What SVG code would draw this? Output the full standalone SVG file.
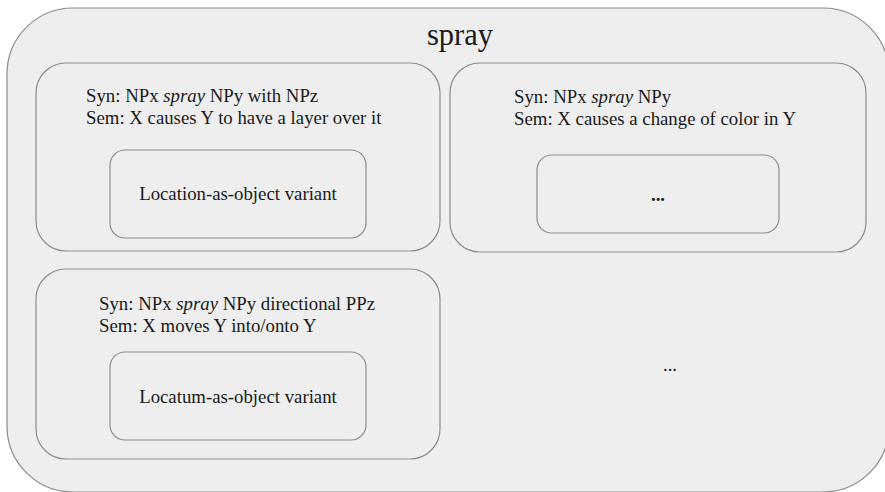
<svg xmlns="http://www.w3.org/2000/svg" width="885" height="492" viewBox="0 0 885 492">
<style>
.box{fill:#eeeeee;stroke:#8c8c8c;stroke-width:1.2}
.c{text-anchor:middle}
</style>
<rect width="885" height="492" fill="#ffffff"/>
<g font-family="Liberation Serif" font-size="18.8" fill="#1a1a1a">
<g id="spray">
<rect class="box" x="7" y="8" width="882" height="484" rx="66" ry="66"/>
<text class="c" x="460" y="45" font-size="30.5">spray</text>
</g>
<g id="frame1">
<rect class="box" x="36" y="63" width="404" height="188" rx="30" ry="30"/>
<text x="86" y="102">Syn: NPx <tspan font-style="italic">spray</tspan> NPy with NPz</text>
<text x="86" y="123.5">Sem: X causes Y to have a layer over it</text>
</g>
<g id="variant1">
<rect class="box" x="110" y="150" width="256" height="88" rx="15" ry="15"/>
<text class="c" x="238" y="200">Location-as-object variant</text>
</g>
<g id="frame2">
<rect class="box" x="450" y="63" width="416" height="189" rx="30" ry="30"/>
<text x="514" y="103">Syn: NPx <tspan font-style="italic">spray</tspan> NPy</text>
<text x="514" y="124.5">Sem: X causes a change of color in Y</text>
</g>
<g id="variant2">
<rect class="box" x="537" y="155" width="242" height="78" rx="15" ry="15"/>
<text class="c" x="658" y="201" font-weight="bold">...</text>
</g>
<g id="frame3">
<rect class="box" x="36" y="269" width="404" height="190" rx="30" ry="30"/>
<text x="99" y="309.5">Syn: NPx <tspan font-style="italic">spray</tspan> NPy directional PPz</text>
<text x="99" y="331.5">Sem: X moves Y into/onto Y</text>
</g>
<g id="variant3">
<rect class="box" x="110" y="352" width="256" height="88" rx="15" ry="15"/>
<text class="c" x="238" y="403">Locatum-as-object variant</text>
</g>
<g id="more">
<text class="c" x="670" y="371">...</text>
</g>
</g>
<g id="connectors"></g>
</svg>
